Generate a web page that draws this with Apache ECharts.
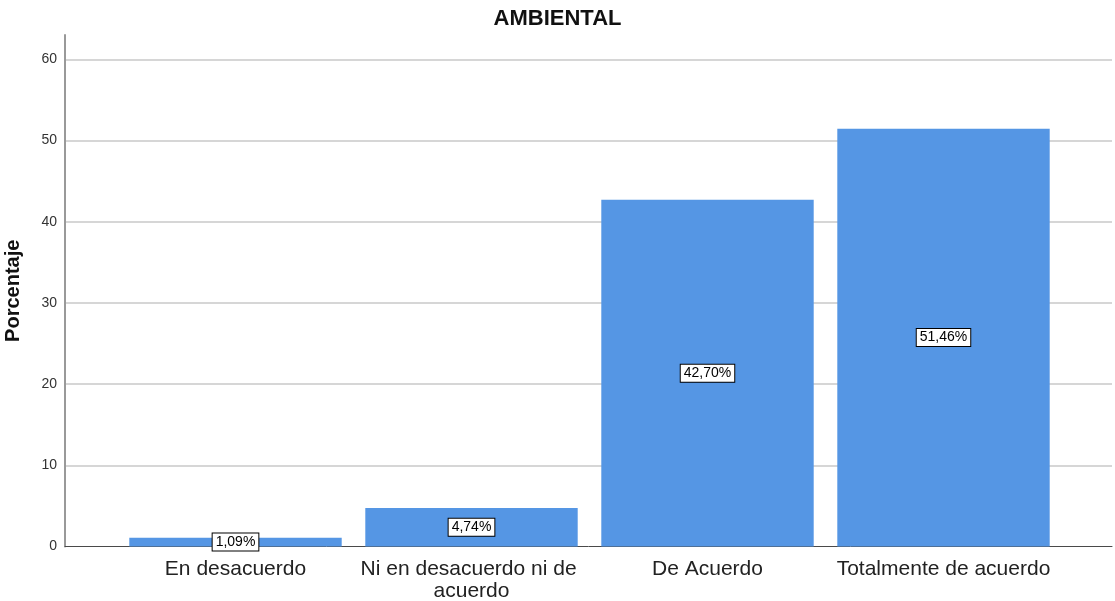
<!DOCTYPE html>
<html>
<head>
<meta charset="utf-8">
<script src="https://cdn.jsdelivr.net/npm/echarts@6/dist/echarts.min.js"></script>
<style>html,body{margin:0;padding:0;background:#fff;}#c{width:1115px;height:601px;}</style>
</head>
<body>
<div id="c"></div>
<script>
const title = 'AMBIENTAL';
const yAxisName = 'Porcentaje';
const categories = ['En desacuerdo', 'Ni en desacuerdo ni de acuerdo', 'De Acuerdo', 'Totalmente de acuerdo'];
const values = [1.09, 4.74, 42.70, 51.46];
const yMin = 0, yMax = 63, yInterval = 10;

const chart = echarts.init(document.getElementById('c'), null, {renderer: 'canvas'});
const font = 'Liberation Sans, Arial, sans-serif';
chart.setOption({
  animation: false,
  backgroundColor: '#fff',
  title: {
    text: title, left: 'center', top: 3,
    textStyle: {fontFamily: font, fontSize: 22, fontWeight: 'bold', color: '#111'}
  },
  grid: [
    {left: 65, right: 3, top: 35, bottom: 54.5, containLabel: false, outerBoundsMode: 'none'},
    {left: 117.5, right: 53.5, top: 35, bottom: 54.5, containLabel: false, outerBoundsMode: 'none'}
  ],
  xAxis: [
    {gridIndex: 0, type: 'value', min: 0, max: 1, axisLabel: {show: false}, axisTick: {show: false}, splitLine: {show: false},
     axisLine: {show: true, onZero: false, lineStyle: {color: '#4a4a4a', width: 1}}},
    {gridIndex: 1, type: 'category', data: categories, axisLine: {show: false}, axisTick: {show: false},
     axisLabel: {interval: 0, margin: 12, fontFamily: font, fontSize: 21, color: '#222', width: 234, overflow: 'break', lineHeight: 22}}
  ],
  yAxis: [
    {gridIndex: 0, type: 'value', min: yMin, max: yMax, interval: yInterval,
     name: yAxisName, nameLocation: 'middle', nameGap: 42,
     nameTextStyle: {fontFamily: font, fontSize: 20, fontWeight: 'bold', color: '#111'},
     axisLine: {show: true, lineStyle: {color: '#999999', width: 2}},
     axisTick: {show: false},
     axisLabel: {fontFamily: font, fontSize: 14, color: '#333', margin: 8, showMaxLabel: false},
     splitLine: {show: true, showMinLine: false, showMaxLine: false, lineStyle: {color: '#c8c8c8', width: 1.5}}},
    {gridIndex: 1, type: 'value', min: yMin, max: yMax, interval: yInterval, show: false, splitLine: {show: false}}
  ],
  series: [{
    type: 'bar', xAxisIndex: 1, yAxisIndex: 1, data: values,
    barCategoryGap: '10%',
    itemStyle: {color: '#5596e4'},
    label: {
      show: true, position: 'inside',
      formatter: p => p.value.toFixed(2).replace('.', ',') + '%',
      fontFamily: font, fontSize: 14, color: '#000',
      backgroundColor: '#fff', borderColor: '#000', borderWidth: 1, padding: [2, 3, 1, 3]
    }
  }]
});
</script>
</body>
</html>
